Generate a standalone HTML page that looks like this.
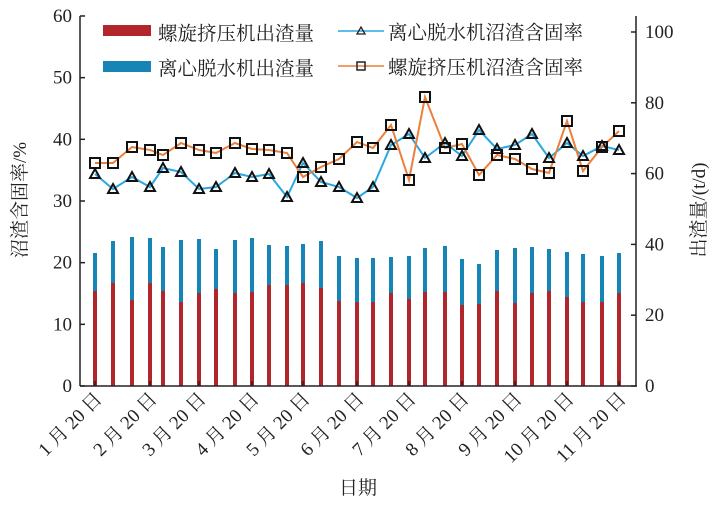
<!DOCTYPE html>
<html><head><meta charset="utf-8"><style>
body{margin:0;background:#fff}
text{font-family:"Liberation Serif","Noto Serif CJK SC",serif;fill:#222}
</style></head><body>
<svg width="726" height="505" xmlns="http://www.w3.org/2000/svg">
<g id="bars"></g>
<polyline id="bl" fill="none" stroke="#29a8e0" stroke-width="2"/>
<polyline id="ol" fill="none" stroke="#ec7f3a" stroke-width="2"/>
<g id="mk"></g>
<line x1="80" y1="16" x2="80" y2="386" stroke="#222" stroke-width="1.5"/>
<line x1="80" y1="386" x2="637" y2="386" stroke="#222" stroke-width="1.5"/>
<line x1="636" y1="16" x2="636" y2="386" stroke="#222" stroke-width="1.5"/>
<g id="ax" font-size="19"></g>
<text x="26" y="200" font-size="19" text-anchor="middle" transform="rotate(-90 26 200)">沼渣含固率/%</text>
<text x="705" y="210" font-size="19" text-anchor="middle" transform="rotate(-90 705 210)">出渣量/(t/d)</text>
<text x="358" y="494" font-size="19" text-anchor="middle">日期</text>
<rect x="103" y="25" width="48" height="11" fill="#b0262b"/>
<text x="158" y="40" font-size="19.5">螺旋挤压机出渣量</text>
<rect x="103" y="61" width="48" height="11" fill="#1685b5"/>
<text x="158" y="75" font-size="19.5">离心脱水机出渣量</text>
<line x1="338" y1="31" x2="384" y2="31" stroke="#29a8e0" stroke-width="1.5"/>
<polygon points="361,27 365,34 357,34" fill="none" stroke="#222" stroke-width="1.3"/>
<text x="388" y="39" font-size="19.5">离心脱水机沼渣含固率</text>
<line x1="338" y1="66" x2="384" y2="66" stroke="#ec7f3a" stroke-width="1.5"/>
<rect x="357" y="62" width="8" height="8" fill="none" stroke="#222" stroke-width="1.5"/>
<text x="388" y="74" font-size="19.5">螺旋挤压机沼渣含固率</text>
</svg>
<script>
const X=[95,113,132,150,163,181,199,216,235,252,269,287,303,321,339,357,373,391,409,425,445,462,479,497,515,532,549,567,583,602,619];
const T=[253,241,237,238,247,240,239,249,240,238,245,246,244,241,256,258,258,257,256,248,246,259,264,250,248,247,249,252,254,256,253];
const R=[291,283,300,283,291,302,293,289,293,292,285,285,283,288,301,302,302,293,299,292,292,305,304,291,303,293,291,297,302,302,293];
const B=[174,189,177,187,168,172,189,187,173,177,174,197,163,182,187,198,187,145,134,158,143,156,130,149,145,134,158,143,156,146,150];
const O=[163,163,147,150,155,143,150,153,143,149,150,153,177,167,159,142,148,125,180,97,148,144,175,155,159,169,173,121,171,147,131];
const ns="http://www.w3.org/2000/svg";
function el(n,a,p){const e=document.createElementNS(ns,n);for(const k in a)e.setAttribute(k,a[k]);document.getElementById(p).appendChild(e);return e;}
X.forEach((x,i)=>{
 el('rect',{x:x-2,y:T[i],width:4,height:R[i]-T[i],fill:'#1685b5'},'bars');
 el('rect',{x:x-2,y:R[i],width:4,height:386-R[i],fill:'#b0262b'},'bars');
});
document.getElementById('bl').setAttribute('points',X.map((x,i)=>x+','+B[i]).join(' '));
document.getElementById('ol').setAttribute('points',X.map((x,i)=>x+','+O[i]).join(' '));
X.forEach((x,i)=>{
 el('polygon',{points:`${x},${B[i]-5} ${x+5},${B[i]+4} ${x-5},${B[i]+4}`,fill:'none',stroke:'#111','stroke-width':2},'mk');
 el('rect',{x:x-5,y:O[i]-5,width:10,height:10,fill:'none',stroke:'#111','stroke-width':2},'mk');
});
for(let k=0;k<=6;k++){const y=386-k*61.67;
 el('line',{x1:80,y1:y,x2:85,y2:y,stroke:'#222','stroke-width':1.5},'ax');
 const t=el('text',{x:72,y:y+6,'text-anchor':'end'},'ax');t.textContent=k*10;}
for(let k=0;k<=5;k++){const y=386-k*70.8;
 el('line',{x1:631,y1:y,x2:636,y2:y,stroke:'#222','stroke-width':1.5},'ax');
 const t=el('text',{x:645,y:y+6},'ax');t.textContent=k*20;}
for(let m=0;m<11;m++){const x=X[m*3];
 el('line',{x1:x,y1:386,x2:x,y2:381,stroke:'#222','stroke-width':1.5},'ax');
 const t=el('text',{x:x+8,y:400,'text-anchor':'end',transform:`rotate(-45 ${x+8} 400)`},'ax');t.textContent=(m+1)+' 月 20 日';}
</script>
</body></html>
